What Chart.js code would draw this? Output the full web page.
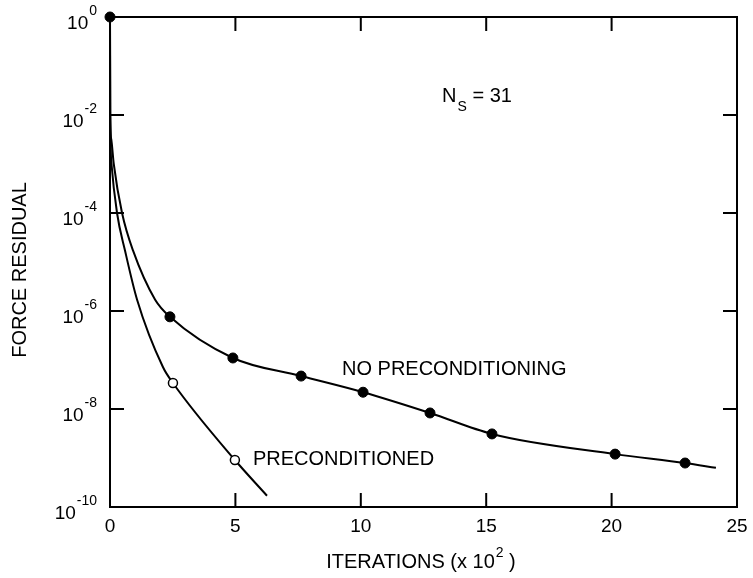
<!DOCTYPE html>
<html>
<head>
<meta charset="utf-8">
<script src="https://cdn.jsdelivr.net/npm/chart.js@4"></script>
<style>
  html, body { margin: 0; padding: 0; background: #fff; }
  #wrap { width: 753px; height: 578px; }
</style>
</head>
<body>
<div id="wrap"><canvas id="c"></canvas></div>
<script>
// curve traces (iterations x 10^2, force residual)
const noPrecIter = [0, 0.01, 0.05, 0.15, 0.48, 0.92, 1.8, 2.39, 4.9, 7.62, 10.09, 12.76, 15.23, 20.14, 22.93, 24.16]
const noPrecResid = [1, 1e-2, 3.2e-3, 1e-3, 1e-4, 1.7e-5, 1.7e-6, 7.6e-7, 1.1e-7, 4.7e-8, 2.2e-8, 8.3e-9, 3.1e-9, 1.2e-9, 7.9e-10, 6.3e-10]
const noPrecMarked = [1, 0, 0, 0, 0, 0, 0, 1, 1, 1, 1, 1, 1, 1, 1, 0] // filled dots

const precIter = [0, 0.01, 0.06, 0.28, 0.6, 1.08, 2.11, 2.51, 4.98, 6.26]
const precResid = [1, 1e-2, 1e-3, 1e-4, 1.7e-5, 1.7e-6, 7.2e-8, 3.4e-8, 9.1e-10, 1.7e-10]
const precMarked = [0, 0, 0, 0, 0, 0, 0, 1, 1, 0] // open dots

const xTicks = [0, 5, 10, 15, 20, 25]
const yExps = [0, -2, -4, -6, -8, -10]

const FONT = '"Liberation Sans", Arial, Helvetica, sans-serif'

function toPoints(xs, ys) {
    return xs.map((x, i) => ({x: x, y: ys[i]}))
}

const framePlugin = {
    id: 'frame',
    beforeDatasetsDraw(chart) { // 边框 + 内向刻度
        const {ctx, chartArea: a, scales: {x, y}} = chart
        ctx.save()
        ctx.strokeStyle = '#000'
        ctx.lineWidth = 2
        ctx.strokeRect(a.left, a.top, a.right - a.left, a.bottom - a.top)
        const len = 14
        ctx.beginPath()
        xTicks.slice(1, -1).forEach(v => {
            const px = x.getPixelForValue(v)
            ctx.moveTo(px, a.bottom); ctx.lineTo(px, a.bottom - len)
            ctx.moveTo(px, a.top); ctx.lineTo(px, a.top + len)
        })
        yExps.slice(1, -1).forEach(e => {
            const py = y.getPixelForValue(Math.pow(10, e))
            ctx.moveTo(a.left, py); ctx.lineTo(a.left + len, py)
            ctx.moveTo(a.right, py); ctx.lineTo(a.right - len, py)
        })
        ctx.stroke()
        ctx.restore()
    },
    afterDraw(chart) { // 文字
        const {ctx, chartArea: a, scales: {x, y}} = chart
        ctx.save()
        ctx.fillStyle = '#000'
        ctx.textBaseline = 'middle'

        // y tick labels 10^e
        yExps.forEach(e => {
            const py = y.getPixelForValue(Math.pow(10, e))
            const sup = String(e)
            ctx.font = '14px ' + FONT
            const sw = ctx.measureText(sup).width
            ctx.font = '19px ' + FONT
            const bw = ctx.measureText('10').width
            const right = 97
            ctx.textAlign = 'left'
            ctx.fillText('10', right - sw - bw - 1, py + 7)
            ctx.font = '14px ' + FONT
            ctx.fillText(sup, right - sw, py - 6)
        })

        // x tick labels
        ctx.font = '19px ' + FONT
        ctx.textAlign = 'center'
        xTicks.forEach(v => {
            ctx.fillText(String(v), x.getPixelForValue(v), a.bottom + 20)
        })

        // x axis title: ITERATIONS (x 10^2)
        const t1 = 'ITERATIONS (x 10', t2 = '2', t3 = ' )'
        ctx.font = '20px ' + FONT
        const w1 = ctx.measureText(t1).width, w3 = ctx.measureText(t3).width
        ctx.font = '14px ' + FONT
        const w2 = ctx.measureText(t2).width
        let sx = (a.left + a.right) / 2 - (w1 + w2 + w3) / 2 - 3
        const ty = a.bottom + 55
        ctx.textAlign = 'left'
        ctx.font = '20px ' + FONT
        ctx.fillText(t1, sx, ty)
        ctx.font = '14px ' + FONT
        ctx.fillText(t2, sx + w1 + 1, ty - 9)
        ctx.font = '20px ' + FONT
        ctx.fillText(t3, sx + w1 + w2 + 1, ty)

        // y axis title
        ctx.translate(20, 270)
        ctx.rotate(-Math.PI / 2)
        ctx.textAlign = 'center'
        ctx.fillText('FORCE RESIDUAL', 0, 0)
        ctx.setTransform(1, 0, 0, 1, 0, 0)

        // curve labels, placed in data units
        ctx.textAlign = 'left'
        ctx.font = '20px ' + FONT
        ctx.fillText('NO PRECONDITIONING', x.getPixelForValue(9.25), y.getPixelForValue(Math.pow(10, -7.2)))
        ctx.fillText('PRECONDITIONED', x.getPixelForValue(5.7), y.getPixelForValue(Math.pow(10, -9.04)))

        // N_S = 31
        ctx.textBaseline = 'alphabetic'
        const nx = x.getPixelForValue(13.24), ny = y.getPixelForValue(Math.pow(10, -1.73))
        ctx.fillText('N', nx, ny)
        const nw = ctx.measureText('N').width
        ctx.font = '14px ' + FONT
        ctx.fillText('S', nx + nw + 1, ny + 9)
        ctx.font = '20px ' + FONT
        ctx.fillText('= 31', nx + nw + 16, ny)

        ctx.restore()
    }
}

new Chart(document.getElementById('c'), {
    type: 'scatter',
    data: {
        datasets: [{
            label: 'NO PRECONDITIONING',
            data: toPoints(noPrecIter, noPrecResid),
            showLine: true,
            borderColor: '#000',
            borderWidth: 2,
            backgroundColor: '#000',
            pointBorderColor: '#000',
            pointBackgroundColor: '#000',
            pointRadius: c => noPrecMarked[c.dataIndex] ? 5 : 0,
            pointBorderWidth: 1,
            cubicInterpolationMode: 'monotone',
            clip: false
        }, {
            label: 'PRECONDITIONED',
            data: toPoints(precIter, precResid),
            showLine: true,
            borderColor: '#000',
            borderWidth: 2,
            backgroundColor: '#fff',
            pointBorderColor: '#000',
            pointBackgroundColor: '#fff',
            pointRadius: c => precMarked[c.dataIndex] ? 4.5 : 0,
            pointBorderWidth: 1.5,
            cubicInterpolationMode: 'monotone',
            clip: false
        }]
    },
    options: {
        responsive: true,
        maintainAspectRatio: false,
        animation: false,
        events: [],
        layout: {padding: {left: 0, top: 17, right: 16, bottom: 0}},
        plugins: {legend: {display: false}, tooltip: {enabled: false}},
        scales: {
            x: {
                type: 'linear', min: 0, max: 25,
                grid: {display: false}, border: {display: false},
                ticks: {display: false},
                afterFit: s => { s.height = 71 }
            },
            y: {
                type: 'logarithmic', min: 1e-10, max: 1,
                grid: {display: false}, border: {display: false},
                ticks: {display: false},
                afterFit: s => { s.width = 110 }
            }
        }
    },
    plugins: [framePlugin]
})
</script>
</body>
</html>
